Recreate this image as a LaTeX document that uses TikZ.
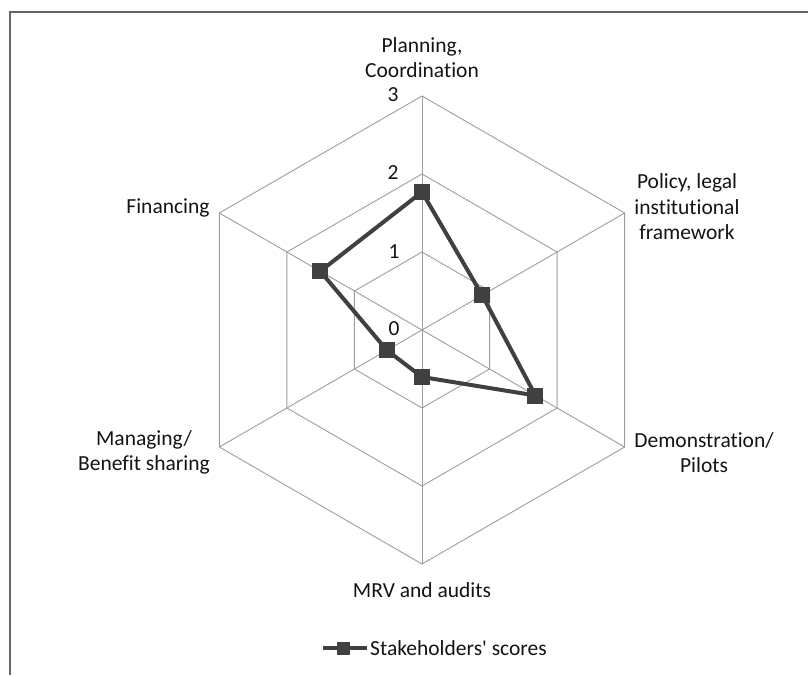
\documentclass[tikz,border=0pt]{standalone}
\usepackage{fontspec}
\setmainfont[Ligatures={NoCommon}]{Carlito}
\begin{document}
\begin{tikzpicture}[x=1pt,y=1pt,
  gridline/.style={draw=black!38, line width=0.9pt},
  series/.style={draw=black!75, line width=4pt, line join=round},
  marker/.style={rectangle, fill=black!75, minimum size=16pt, inner sep=0pt},
  legmarker/.style={rectangle, fill=black!75, minimum size=13pt, inner sep=0pt},
  lbl/.style={font=\fontsize{21.5}{25.5}\selectfont, text=black!92, align=center, inner sep=0pt},
  framel/.style={draw=black!60, line width=2pt}]
\useasboundingbox (-422,-345) rectangle (386,330);
\fill[white] (-422,-345) rectangle (386,330);
\draw[framel] (-412,-345) -- (-412,318) -- (386,318);
% axes
\coordinate (o) at (0,0);
\coordinate (a1) at (90:234);
\coordinate (a2) at (30:234);
\coordinate (a3) at (-30:234);
\coordinate (a4) at (-90:234);
\coordinate (a5) at (210:234);
\coordinate (a6) at (150:234);
\foreach \r in {78,156,234}
  \draw[gridline] (90:\r) -- (30:\r) -- (-30:\r) -- (-90:\r) -- (210:\r) -- (150:\r) -- cycle;
\foreach \i in {1,...,6}
  \draw[gridline] (o) -- (a\i);
% scale labels
\node[lbl] (s0) at (-28,1) {0};
\node[lbl] (s1) at (-28,78) {1};
\node[lbl] (s2) at (-29,157) {2};
\node[lbl] (s3) at (-29,235) {3};
% data
\coordinate (d1) at (90:138);
\coordinate (d2) at (30:69.5);
\coordinate (d3) at (-30:131);
\coordinate (d4) at (-90:47);
\coordinate (d5) at (210:40.5);
\coordinate (d6) at (150:117.5);
\draw[series] (d1) -- (d2) -- (d3) -- (d4) -- (d5) -- (d6) -- cycle;
\foreach \i in {1,...,6}
  \node[marker] (m\i) at (d\i) {};
% axis labels
\node[lbl] (l1) at (0,272.5) {Planning,\\Coordination};
\node[lbl] (l2) at (265,123) {Policy, legal\\institutional\\framework};
\node[lbl] (l3) at (282,-122.5) {Demonstration/\\Pilots};
\node[lbl] (l4) at (0,-260) {MRV and audits};
\node[lbl] (l5) at (-278,-122.5) {Managing/\\Benefit sharing};
\node[lbl] (l6) at (-254,122) {Financing};
% legend
\coordinate (g1) at (-99,-318);
\coordinate (g2) at (-55,-318);
\draw[draw=black!75, line width=3.5pt] (g1) -- (g2);
\node[legmarker] (gm) at (-78,-318) {};
\node[lbl, anchor=west] (gt) at (-52,-318) {Stakeholders\textquotesingle{} scores};
\end{tikzpicture}
\end{document}
